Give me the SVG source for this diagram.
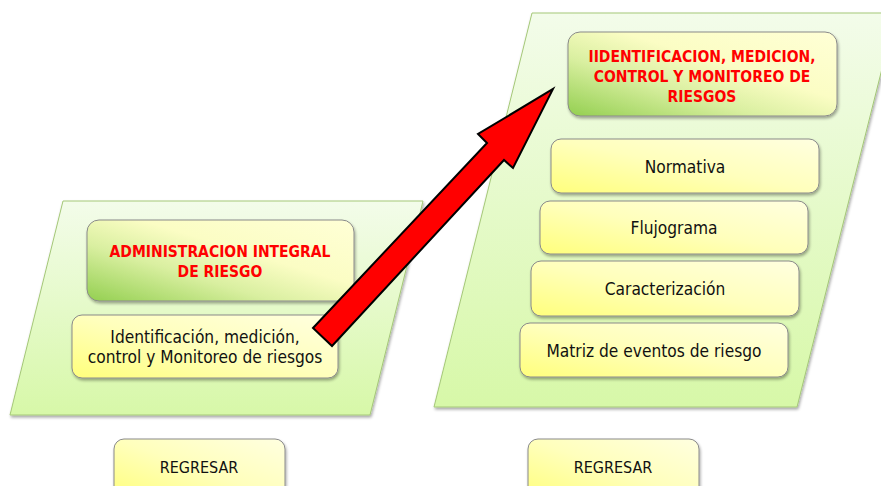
<svg xmlns="http://www.w3.org/2000/svg" width="881" height="486" viewBox="0 0 881 486">
  <defs>
    <linearGradient id="panelFill" x1="0" y1="0" x2="0" y2="1">
      <stop offset="0" stop-color="#f3fcea"/>
      <stop offset="1" stop-color="#d7f8a8"/>
    </linearGradient>
    <linearGradient id="titleFill" x1="0" y1="1" x2="1" y2="0">
      <stop offset="0" stop-color="#93cf50"/>
      <stop offset="0.35" stop-color="#d9efa0"/>
      <stop offset="0.6" stop-color="#fbfdc4"/>
      <stop offset="1" stop-color="#ffffd6"/>
    </linearGradient>
    <linearGradient id="itemFill" x1="0" y1="1" x2="1" y2="0">
      <stop offset="0" stop-color="#ffff7c"/>
      <stop offset="0.5" stop-color="#ffffbc"/>
      <stop offset="1" stop-color="#ffffe0"/>
    </linearGradient>
    <filter id="shadow" x="-10%" y="-10%" width="125%" height="135%">
      <feGaussianBlur in="SourceAlpha" stdDeviation="1.5"/>
      <feOffset dx="1" dy="2" result="b"/>
      <feComponentTransfer><feFuncA type="linear" slope="0.35"/></feComponentTransfer>
      <feMerge><feMergeNode/><feMergeNode in="SourceGraphic"/></feMerge>
    </filter>
  </defs>
  <style>
    .panel { fill: url(#panelFill); stroke: #a5c878; stroke-width: 1; }
    .title { fill: url(#titleFill); stroke: #8a8a8a; stroke-width: 1; }
    .item { fill: url(#itemFill); stroke: #8a8a8a; stroke-width: 1; }
    .red { font-family: "DejaVu Sans Condensed", "DejaVu Sans", sans-serif; font-weight: bold; font-size: 15.5px; fill: #ff0000; text-anchor: middle; }
    .txt { font-family: "DejaVu Sans Condensed", "DejaVu Sans", sans-serif; font-size: 17.2px; fill: #111; text-anchor: middle; }
    .btn { font-family: "DejaVu Sans Condensed", "DejaVu Sans", sans-serif; font-size: 16px; fill: #111; text-anchor: middle; }
    .arrow { fill: #ff0000; stroke: #000; stroke-width: 2; stroke-linejoin: miter; }
  </style>

  <!-- left panel -->
  <g id="panel-left">
    <polygon class="panel" points="63,201 423,201 370,415 10,415" filter="url(#shadow)"/>
  </g>
  <!-- right panel -->
  <g id="panel-right">
    <polygon class="panel" points="532,13 896,13 797,407 434,407" filter="url(#shadow)"/>
  </g>

  <g id="node-admin">
    <rect class="title" x="87" y="220" width="267" height="81" rx="12" filter="url(#shadow)"/>
    <text class="red" x="220" y="257">ADMINISTRACION INTEGRAL</text>
    <text class="red" x="220" y="277">DE RIESGO</text>
  </g>
  <g id="node-ident-left">
    <rect class="item" x="72" y="315" width="266" height="63" rx="10" filter="url(#shadow)"/>
    <text class="txt" x="205" y="343">Identificación, medición,</text>
    <text class="txt" x="205" y="363">control y Monitoreo de riesgos</text>
  </g>

  <g id="node-ident-right">
    <rect class="title" x="568" y="32" width="269" height="84" rx="12" filter="url(#shadow)"/>
    <text class="red" x="702" y="62">IIDENTIFICACION, MEDICION,</text>
    <text class="red" x="702" y="82">CONTROL Y MONITOREO DE</text>
    <text class="red" x="702" y="102">RIESGOS</text>
  </g>
  <g id="node-normativa">
    <rect class="item" x="551" y="139" width="268" height="54" rx="10" filter="url(#shadow)"/>
    <text class="txt" x="685" y="173">Normativa</text>
  </g>
  <g id="node-flujograma">
    <rect class="item" x="540" y="201" width="268" height="53" rx="10" filter="url(#shadow)"/>
    <text class="txt" x="674" y="234">Flujograma</text>
  </g>
  <g id="node-caracterizacion">
    <rect class="item" x="531" y="261" width="268" height="55" rx="10" filter="url(#shadow)"/>
    <text class="txt" x="665" y="295">Caracterización</text>
  </g>
  <g id="node-matriz">
    <rect class="item" x="520" y="323" width="268" height="54" rx="10" filter="url(#shadow)"/>
    <text class="txt" x="654" y="357">Matriz de eventos de riesgo</text>
  </g>

  <g id="btn-regresar-left">
    <rect class="item" x="114" y="439" width="171" height="60" rx="10" filter="url(#shadow)"/>
    <text class="btn" x="199" y="473">REGRESAR</text>
  </g>
  <g id="btn-regresar-right">
    <rect class="item" x="528" y="439" width="171" height="60" rx="10" filter="url(#shadow)"/>
    <text class="btn" x="613" y="473">REGRESAR</text>
  </g>

  <g id="connectors">
    <polygon class="arrow" points="313,328 487,143 478,134 553,89 513,168 504,160 332,346"/>
  </g>
</svg>
